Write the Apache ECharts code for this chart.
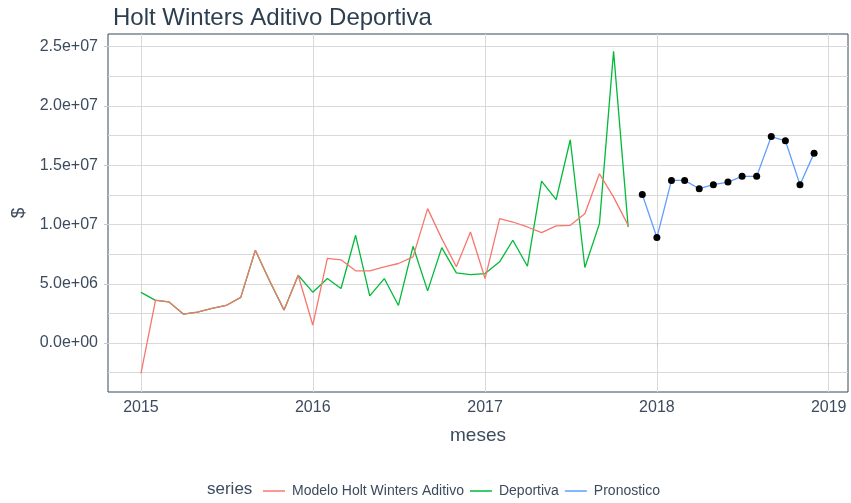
<!DOCTYPE html>
<html lang="es">
<head>
<meta charset="utf-8">
<title>Holt Winters Aditivo Deportiva</title>
<script src="https://cdn.jsdelivr.net/npm/echarts@6/dist/echarts.min.js"></script>
</head>
<body style="margin:0;background:#fff">
<div id="main" style="width:851px;height:503px;"></div>
<script>
// serie mensual desde 2015-01
var modelo = [-2.55e6, 3.62e6, 3.48e6, 2.44e6, 2.61e6, 2.92e6, 3.17e6, 3.85e6, 7.83e6, 5.30e6, 2.78e6, 5.72e6,
  1.52e6, 7.15e6, 7.02e6, 6.09e6, 6.09e6, 6.43e6, 6.71e6, 7.27e6, 11.34e6, 8.81e6, 6.43e6, 9.37e6,
  5.44e6, 10.49e6, 10.21e6, 9.79e6, 9.31e6, 9.88e6, 9.93e6, 10.91e6, 14.28e6, 12.31e6, 9.93e6];
var deportiva = [4.27e6, 3.60e6, 3.48e6, 2.44e6, 2.61e6, 2.92e6, 3.17e6, 3.85e6, 7.83e6, 5.25e6, 2.78e6, 5.72e6,
  4.29e6, 5.44e6, 4.60e6, 9.09e6, 3.98e6, 5.44e6, 3.17e6, 8.16e6, 4.40e6, 8.05e6, 5.92e6, 5.78e6,
  5.86e6, 6.85e6, 8.67e6, 6.48e6, 13.66e6, 12.09e6, 17.15e6, 6.37e6, 10.07e6, 24.6e6, 9.79e6];
// pronostico desde 2017-12
var pronostico = [12.54e6, 8.90e6, 13.72e6, 13.72e6, 13.02e6, 13.36e6, 13.58e6, 14.06e6, 14.06e6,
  17.42e6, 17.06e6, 13.36e6, 16.02e6];
var years = [2015, 2016, 2017, 2018, 2019];
var yLabels = [0, 5e6, 10e6, 15e6, 20e6, 25e6];
var yGrid = [-2.5e6, 0, 2.5e6, 5e6, 7.5e6, 10e6, 12.5e6, 15e6, 17.5e6, 20e6, 22.5e6, 25e6];

var txt = '#3d4b5e';
var font = 'Liberation Sans, Arial, sans-serif';

function pares(vals, offset) {
  var res = [];
  for (var i = 0; i < vals.length; i++) {
    res.push([Date.UTC(2015, offset + i, 1), vals[i]]);
  }
  return res;
}
function sci(v) {
  if (v === 0) return '0.0e+00';
  var e = Math.floor(Math.log10(Math.abs(v)));
  var m = v / Math.pow(10, e);
  return m.toFixed(1) + 'e+' + (e < 10 ? '0' : '') + e;
}
var yearTs = years.map(function (y) { return Date.UTC(y, 0, 1); });

var chart = echarts.init(document.getElementById('main'));
chart.setOption({
  animation: false,
  backgroundColor: '#fff',
  title: {
    text: 'Holt Winters Aditivo Deportiva',
    left: 113, top: 6, padding: 0,
    textStyle: { color: '#2c3e50', fontSize: 24, fontWeight: 'normal', fontFamily: font }
  },
  grid: {
    left: 108, top: 34, right: 3, bottom: 111,
    show: true, borderColor: '#34495e', borderWidth: 1, backgroundColor: '#fff',
    outerBoundsMode: 'none'
  },
  legend: {
    left: 258, top: 479,
    itemWidth: 22, itemHeight: 1.5, itemGap: 6, icon: 'rect',
    textStyle: { color: txt, fontSize: 14, fontFamily: font, padding: [0, 0, 0, 2] },
    data: [
      { name: 'Modelo Holt Winters Aditivo', itemStyle: { color: '#F8766D' } },
      { name: 'Deportiva', itemStyle: { color: '#00BA38' } },
      { name: 'Pronostico', itemStyle: { color: '#619CFF' } }
    ]
  },
  graphic: [{
    type: 'text', left: 207, top: 481,
    style: { text: 'series', fill: txt, fontSize: 17, fontFamily: font }
  }],
  xAxis: {
    type: 'value',
    min: Date.UTC(2014, 9, 23), max: Date.UTC(2019, 1, 11),
    name: 'meses', nameLocation: 'middle', nameGap: 34,
    nameTextStyle: { color: txt, fontSize: 19, fontFamily: font },
    axisLine: { show: false },
    axisTick: { show: true, length: 4, lineStyle: { color: '#c8c8c8' }, customValues: yearTs },
    axisLabel: {
      customValues: yearTs, margin: 8, color: txt, fontSize: 16, fontFamily: font,
      formatter: function (v) { return String(new Date(v).getUTCFullYear()); }
    },
    splitLine: { show: true, lineStyle: { color: '#d9d9d9', width: 1 } }
  },
  yAxis: [{
    type: 'value',
    min: -4.13e6, max: 26.07e6,
    name: '$', nameLocation: 'middle', nameGap: 80, nameRotate: 90,
    nameTextStyle: { color: txt, fontSize: 19, fontFamily: font },
    axisLine: { show: false },
    axisTick: { show: false, customValues: yGrid },
    axisLabel: { show: false },
    splitLine: { show: true, lineStyle: { color: '#d9d9d9', width: 1 } }
  }, {
    type: 'value', position: 'left',
    min: -4.13e6, max: 26.07e6,
    axisLine: { show: false },
    axisTick: { show: true, length: 4, lineStyle: { color: '#c8c8c8' }, customValues: yLabels },
    axisLabel: {
      customValues: yLabels, margin: 10, color: txt, fontSize: 16, fontFamily: font,
      formatter: sci
    },
    splitLine: { show: false }
  }],
  series: [{
    name: 'Modelo Holt Winters Aditivo', type: 'line', z: 4,
    data: pares(modelo, 0), showSymbol: false, symbol: 'none',
    lineStyle: { color: '#F8766D', width: 1.3 }, itemStyle: { color: '#F8766D' }
  }, {
    name: 'Deportiva', type: 'line', z: 3,
    data: pares(deportiva, 0), showSymbol: false, symbol: 'none',
    lineStyle: { color: '#00BA38', width: 1.3 }, itemStyle: { color: '#00BA38' }
  }, {
    name: 'Pronostico', type: 'line', z: 5,
    data: pares(pronostico, 35), symbol: 'circle', symbolSize: 7, showSymbol: true,
    lineStyle: { color: '#619CFF', width: 1.3 }, itemStyle: { color: '#000' }
  }]
});
</script>
</body>
</html>
